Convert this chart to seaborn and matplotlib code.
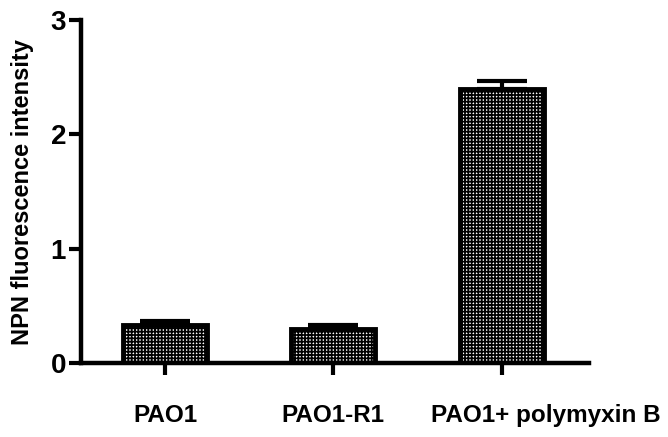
import matplotlib
matplotlib.use('Agg')
import matplotlib.pyplot as plt
import matplotlib.transforms as mtransforms
import seaborn as sns
import pandas as pd
import numpy as np

# Datos
grupos = ['PAO1', 'PAO1-R1', 'PAO1+ polymyxin B']
intensidad = [0.33, 0.30, 2.40]
error_sup = [0.035, 0.035, 0.07]

sns.set_style('ticks')
plt.rcParams['font.family'] = ['Liberation Sans', 'DejaVu Sans']
plt.rcParams['font.weight'] = 'bold'
plt.rcParams['hatch.linewidth'] = 1.25
plt.rcParams['text.color'] = 'black'
plt.rcParams['axes.labelcolor'] = 'black'
plt.rcParams['xtick.color'] = 'black'
plt.rcParams['ytick.color'] = 'black'
plt.rcParams['axes.edgecolor'] = 'black'

df = pd.DataFrame({'grupo': grupos, 'valor': intensidad})

fig = plt.figure(figsize=(6.68, 4.37), dpi=100)
ax = fig.add_axes([0.121, 0.169, 0.761, 0.785])

# error solo hacia arriba, dibujado antes de las barras
ax.errorbar(np.arange(len(grupos)), intensidad,
            yerr=[np.zeros(len(grupos)), error_sup],
            fmt='none', ecolor='black', elinewidth=3, capsize=18, capthick=3, zorder=1)

sns.barplot(data=df, x='grupo', y='valor', color='white', edgecolor='black',
            linewidth=3.5, hatch='+++++', width=0.5, errorbar=None, ax=ax, zorder=2)

ax.set_ylim(0, 3)
ax.set_xlim(-0.5, 2.52)
ax.set_yticks([0, 1, 2, 3])
ax.set_xlabel('')
ax.set_ylabel('NPN fluorescence intensity', fontsize=17, fontweight='bold', labelpad=12)

sns.despine(ax=ax)
for s in ['left', 'bottom']:
    ax.spines[s].set_linewidth(3.2)
ax.tick_params(axis='y', length=8.6, width=3, pad=2, labelsize=20)
ax.tick_params(axis='x', length=8.6, width=3, pad=21, labelsize=17.5)
for lab in ax.get_xticklabels() + ax.get_yticklabels():
    lab.set_fontweight('bold')

# la ultima etiqueta esta corrida a la derecha en el original
ultima = ax.get_xticklabels()[-1]
ultima.set_transform(ultima.get_transform() +
                     mtransforms.ScaledTranslation(0.44, 0, fig.dpi_scale_trans))

plt.savefig('out.png', dpi=100)
